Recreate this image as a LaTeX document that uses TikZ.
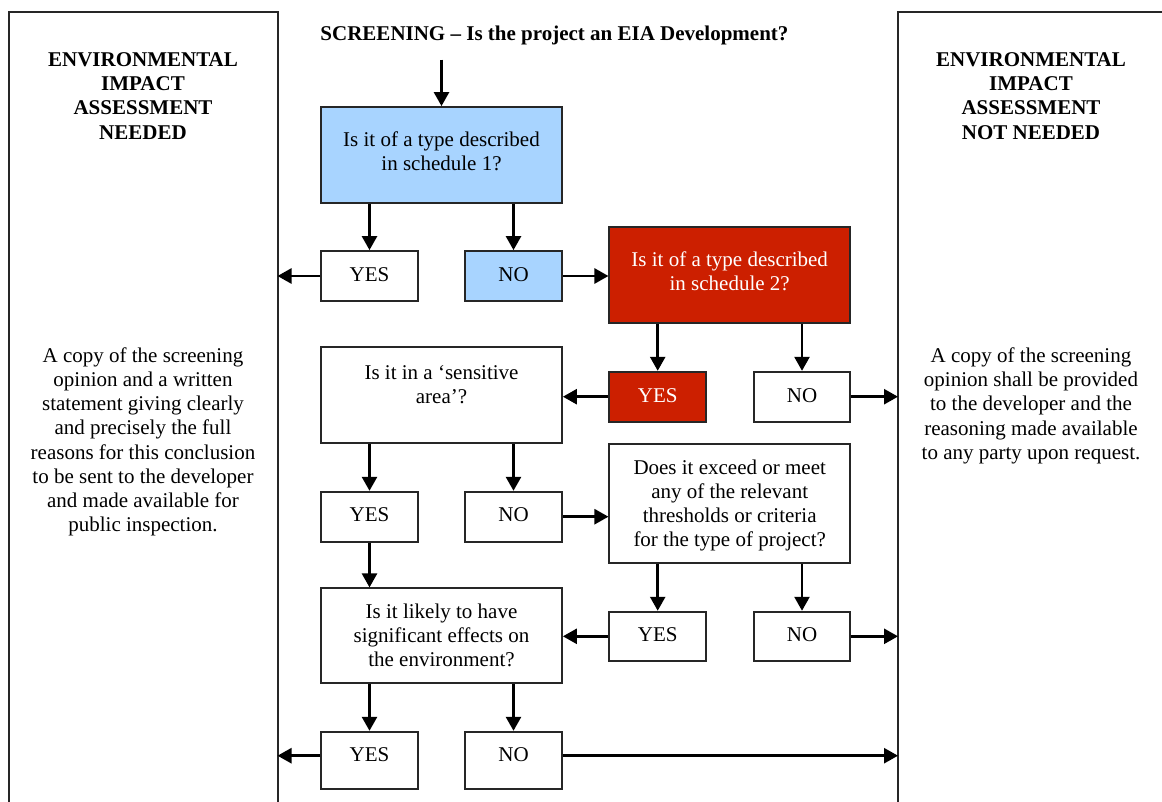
\documentclass[tikz,border=0pt]{standalone}
\usepackage{fontspec}
\setmainfont{Liberation Serif}
\usetikzlibrary{arrows.meta}
\definecolor{schedblue}{RGB}{168,212,255}
\definecolor{schedred}{RGB}{204,31,0}
% centred stack of lines whose first baseline sits #1pt above the node centre
\newcommand{\boxtext}[2]{\raisebox{#1pt}[0pt][0pt]{\begin{tabular}[t]{@{}c@{}}#2\end{tabular}}}
\newcommand{\linestack}[1]{\begin{tabular}[t]{@{}c@{}}#1\end{tabular}}

\begin{document}
\begin{tikzpicture}[x=1pt,y=-1pt,
  every node/.style={font=\fontsize{21}{24.2}\selectfont, inner sep=0pt},
  box/.style={draw=black!85, line width=1.8pt, fill=white,
              minimum width=97pt, minimum height=50pt},
  wide/.style={box, minimum width=241pt, minimum height=96pt},
  bluebox/.style={fill=schedblue},
  redbox/.style={fill=schedred, text=white},
  heading/.style={font=\fontsize{21}{24.2}\selectfont\bfseries, anchor=base},
  body/.style={anchor=base},
  arr/.style={line width=2.6pt, -{Triangle[length=14pt,width=15pt]}},
  frame/.style={line width=2pt, draw=black!85}]

\useasboundingbox (0,0) rectangle (1162,801);

% outcome panels, open at the bottom
\draw[frame] (9,806) -- (9,12) -- (277.5,12) -- (277.5,806);
\draw[frame] (1170,12) -- (898,12) -- (898,806);
\coordinate (needed) at (277.5,400);
\coordinate (notneeded) at (898,400);

\node[heading] (neededhead) at (143,66.5)
  {\linestack{ENVIRONMENTAL\\IMPACT\\ASSESSMENT\\NEEDED}};
\node[body] (neededtext) at (143,362.3)
  {\linestack{A copy of the screening\\opinion and a written\\statement giving clearly\\and precisely the full\\reasons for this conclusion\\to be sent to the developer\\and made available for\\public inspection.}};

\node[heading] (notneededhead) at (1031,66.5)
  {\linestack{ENVIRONMENTAL\\IMPACT\\ASSESSMENT\\NOT NEEDED}};
\node[body] (notneededtext) at (1031,362.5)
  {\linestack{A copy of the screening\\opinion shall be provided\\to the developer and the\\reasoning made available\\to any party upon request.}};

% title
\node[heading] (title) at (554.5,40.5) {SCREENING -- Is the project an EIA Development?};
\coordinate (start) at (441.5,59.5);

% schedule 1
\node[wide, bluebox] (q1) at (441.5,155) {\boxtext{8.5}{Is it of a type described\\in schedule 1?}};
\node[box] (y1) at (369.5,276) {\boxtext{-5}{YES}};
\node[box, bluebox] (n1) at (513.5,276) {\boxtext{-5}{NO}};

% schedule 2
\node[wide, redbox, minimum width=240.7pt] (q2) at (729.7,275.3) {\boxtext{8.6}{Is it of a type described\\in schedule 2?}};
\node[box, redbox, minimum width=96.7pt] (y2) at (657.7,396.7) {\boxtext{-5.6}{YES}};
\node[box, minimum width=96pt] (n2) at (802,396.7) {\boxtext{-5.6}{NO}};

% sensitive area
\node[wide] (q3) at (441.5,395.3) {\boxtext{16.3}{Is it in a ‘sensitive\\area’?}};
\node[box] (y3) at (369.5,516.7) {\boxtext{-5}{YES}};
\node[box] (n3) at (513.5,516.7) {\boxtext{-5}{NO}};

% thresholds
\node[wide, minimum width=240.7pt, minimum height=119.3pt] (q4) at (729.7,503.7)
  {\boxtext{29.4}{Does it exceed or meet\\any of the relevant\\thresholds or criteria\\for the type of project?}};
\node[box, minimum width=96.7pt, minimum height=49.3pt] (y4) at (657.7,636.3) {\boxtext{-5.4}{YES}};
\node[box, minimum width=96pt, minimum height=49.3pt] (n4) at (802,636.3) {\boxtext{-5.4}{NO}};

% significant effects
\node[wide, minimum height=95pt] (q5) at (441.5,635.8)
  {\boxtext{17.5}{Is it likely to have\\significant effects on\\the environment?}};
\node[box, minimum height=57.6pt] (y5) at (369.5,760.5) {\boxtext{-1.2}{YES}};
\node[box, minimum height=57.6pt] (n5) at (513.5,760.5) {\boxtext{-1.2}{NO}};

% connectors
\draw[arr] (start) -- (q1.north);
\draw[arr] (y1.north |- q1.south) -- (y1.north);
\draw[arr] (n1.north |- q1.south) -- (n1.north);
\draw[arr] (y1.west) -- (y1.west -| needed);
\draw[arr] (n1.east) -- (n1.east -| q2.west);

\draw[arr] (y2.north |- q2.south) -- (y2.north);
\draw[arr] (n2.north |- q2.south) -- (n2.north);
\draw[arr] (y2.west) -- (y2.west -| q3.east);
\draw[arr] (n2.east) -- (n2.east -| notneeded);

\draw[arr] (y3.north |- q3.south) -- (y3.north);
\draw[arr] (n3.north |- q3.south) -- (n3.north);
\draw[arr] (n3.east) -- (n3.east -| q4.west);
\draw[arr] (y3.south) -- (y3.south |- q5.north);

\draw[arr] (y4.north |- q4.south) -- (y4.north);
\draw[arr] (n4.north |- q4.south) -- (n4.north);
\draw[arr] (y4.west) -- (y4.west -| q5.east);
\draw[arr] (n4.east) -- (n4.east -| notneeded);

\draw[arr] (y5.north |- q5.south) -- (y5.north);
\draw[arr] (n5.north |- q5.south) -- (n5.north);
\draw[arr] ([yshift=4.8pt]y5.west) -- ([yshift=4.8pt]y5.west -| needed);
\draw[arr] ([yshift=4.8pt]n5.east) -- ([yshift=4.8pt]n5.east -| notneeded);
\end{tikzpicture}
\end{document}
